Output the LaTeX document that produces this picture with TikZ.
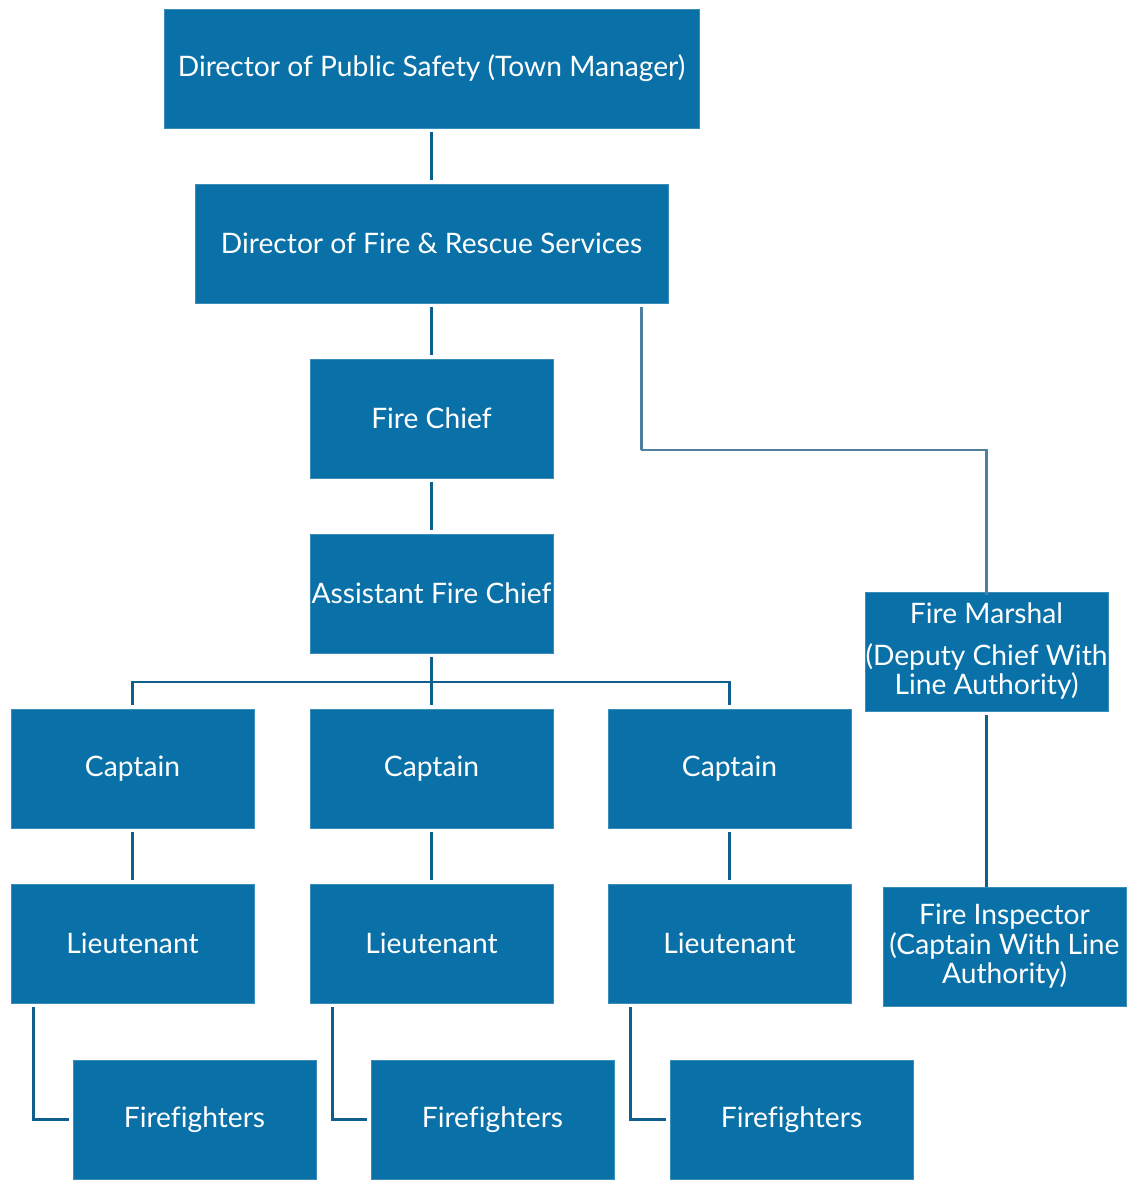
\documentclass[tikz,border=0pt]{standalone}
\usepackage{fontspec}
\setmainfont[Ligatures={NoCommon}]{Lato}
\definecolor{boxblue}{HTML}{0A71A8}
\definecolor{linedark}{HTML}{0E5F8E}
\definecolor{linegray}{HTML}{4F7F9C}
\begin{document}
\begin{tikzpicture}[x=1pt,y=-1pt,
  box/.style={fill=boxblue,draw=boxblue!80!white,line width=0.6pt,text=white,inner sep=0pt,
    minimum width=243pt,minimum height=119pt,align=center,
    font=\fontsize{28.2}{29.5}\selectfont},
  conn/.style={draw=linedark,line width=2.6pt},
  conngray/.style={draw=linegray,line width=2.6pt}]
\useasboundingbox (0,0) rectangle (1128,1180);
\node[box,minimum width=535pt] (dps) at (431.5,68.5) {Director of Public Safety (Town Manager)};
\node[box,minimum width=473pt] (dfrs) at (431.5,243.5) {Director of Fire \& Rescue Services};
\node[box] (fc) at (431.5,418.5) {Fire Chief};
\node[box] (afc) at (431.5,593.5) {Assistant Fire Chief};
\node[box] (capA) at (132.5,768.5) {Captain};
\node[box] (capB) at (431.5,768.5) {Captain};
\node[box] (capC) at (729.5,768.5) {Captain};
\node[box] (ltA) at (132.5,943.5) {Lieutenant};
\node[box] (ltB) at (431.5,943.5) {Lieutenant};
\node[box] (ltC) at (729.5,943.5) {Lieutenant};
\node[box] (ffA) at (194.5,1119.5) {Firefighters};
\node[box] (ffB) at (492.5,1119.5) {Firefighters};
\node[box] (ffC) at (791.5,1119.5) {Firefighters};
\node[box] (fm) at (986.5,651.5) {Fire Marshal\\[12pt](Deputy Chief With\\Line Authority)};
\node[box] (fi) at (1004.5,946.5) {Fire Inspector\\(Captain With Line\\Authority)};
\coordinate (j) at (431,682);
\coordinate (bend) at (641,450);
\draw[conn] ([yshift=-4pt]dps.south) -- ([yshift=4pt]dfrs.north);
\draw[conn] ([yshift=-4pt]dfrs.south) -- ([yshift=4pt]fc.north);
\draw[conn] ([yshift=-4pt]fc.south) -- ([yshift=4pt]afc.north);
\draw[conn] ([yshift=-4pt]afc.south) -- ([yshift=4pt]capB.north);
\draw[conn] ([yshift=4pt]capA.north) -- (capA.north |- j) -- (capC.north |- j) -- ([yshift=4pt]capC.north);
\draw[conn] ([yshift=-4pt]capA.south) -- ([yshift=4pt]ltA.north);
\draw[conn] ([yshift=-4pt]capB.south) -- ([yshift=4pt]ltB.north);
\draw[conn] ([yshift=-4pt]capC.south) -- ([yshift=4pt]ltC.north);
\draw[conn] ([xshift=23pt,yshift=-4pt]ltA.south west) |- ([xshift=-4pt]ffA.west);
\draw[conn] ([xshift=23pt,yshift=-4pt]ltB.south west) |- ([xshift=-4pt]ffB.west);
\draw[conn] ([xshift=23pt,yshift=-4pt]ltC.south west) |- ([xshift=-4pt]ffC.west);
\draw[conngray] ([xshift=-27pt,yshift=-4pt]dfrs.south east) |- (bend) -| ([yshift=-3pt]fm.north);
\draw[conn] ([yshift=-4pt]fm.south) -- (fm.south |- fi.north);
\end{tikzpicture}
\end{document}
